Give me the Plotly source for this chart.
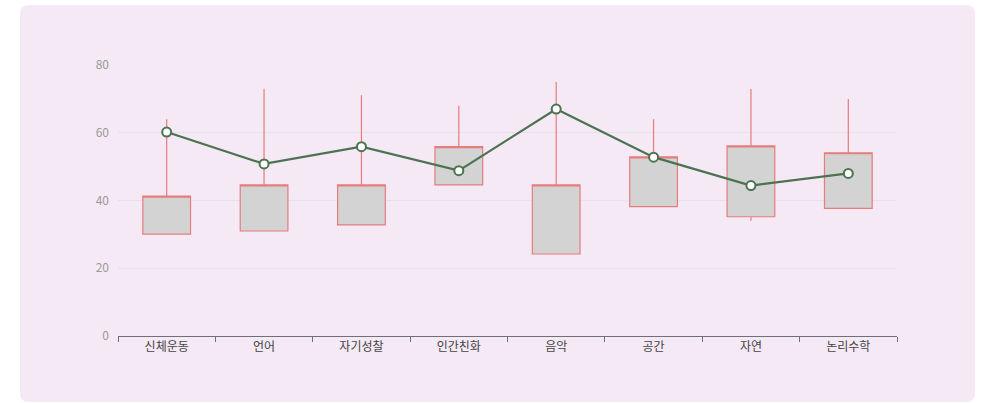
import plotly.graph_objects as go

categories = ["신체운동", "언어", "자기성찰", "인간친화", "음악", "공간", "자연", "논리수학"]
box_low = [30.1, 31.0, 32.8, 44.6, 24.2, 38.2, 35.2, 37.7]
box_high = [41.3, 44.6, 44.6, 55.9, 44.6, 52.9, 56.1, 54.1]
whisker_high = [64.0, 73.0, 71.1, 68.0, 75.0, 64.0, 72.9, 70.0]
whisker_low = [30.1, 31.0, 32.8, 44.6, 24.2, 38.2, 34.0, 37.7]
line_values = [60.2, 50.8, 55.9, 48.8, 67.0, 52.8, 44.4, 48.0]
y_ticks = [0, 20, 40, 60, 80]

W, H = 982, 403
ML, MR, MT, MB = 118, 85, 65, 67
pw, ph = W - ML - MR, H - MT - MB

box_color = "#e67c7c"
fill_color = "#d3d3d3"
line_color = "#4b7350"
card_color = "#f5e9f5"

fig = go.Figure()
fig.add_trace(go.Candlestick(
    x=categories, open=box_low, close=box_high, high=whisker_high, low=whisker_low,
    increasing=dict(line=dict(color=box_color, width=1.2), fillcolor=fill_color),
    decreasing=dict(line=dict(color=box_color, width=1.2), fillcolor=fill_color),
    whiskerwidth=0, showlegend=False, hoverinfo="skip",
))
fig.add_trace(go.Scatter(
    x=categories, y=line_values, mode="lines+markers",
    line=dict(color=line_color, width=2.2),
    marker=dict(size=9, color="white", line=dict(color=line_color, width=2)),
    showlegend=False,
))

# rounded card background in paper coords
def px_x(p):
    return (p - ML) / pw

def px_y(p):
    return (H - MB - p) / ph

x0, x1, y0, y1, r = 20, 975, 5, 402, 9
rx, ry = r / pw, r / ph
X0, X1, Y0, Y1 = px_x(x0), px_x(x1), px_y(y0), px_y(y1)
path = (f"M {X0+rx},{Y0} L {X1-rx},{Y0} Q {X1},{Y0} {X1},{Y0-ry} "
        f"L {X1},{Y1+ry} Q {X1},{Y1} {X1-rx},{Y1} L {X0+rx},{Y1} "
        f"Q {X0},{Y1} {X0},{Y1+ry} L {X0},{Y0-ry} Q {X0},{Y0} {X0+rx},{Y0} Z")
fig.add_shape(type="path", path=path, xref="paper", yref="paper",
              fillcolor=card_color, line=dict(width=0), layer="below")

fig.update_layout(
    width=W, height=H,
    margin=dict(l=ML, r=MR, t=MT, b=MB),
    paper_bgcolor="white", plot_bgcolor="rgba(0,0,0,0)",
    font=dict(family="Noto Sans CJK KR, Noto Sans, sans-serif", size=12, color="#555"),
    boxgap=0.51, boxgroupgap=0,
    xaxis=dict(
        type="category", rangeslider=dict(visible=False), range=[-0.5, 7.5],
        showgrid=False, showline=True, linecolor="#6e7079", linewidth=1,
        ticks="outside", tickson="boundaries", ticklen=5, tickcolor="#6e7079",
        tickfont=dict(color="#444", size=12), fixedrange=True,
    ),
    yaxis=dict(
        range=[0, 80], tickvals=y_ticks, showgrid=True, gridcolor="#e8e0f0",
        zeroline=False, showline=False, ticks="", ticklabelstandoff=8,
        tickfont=dict(color="#999", size=12), fixedrange=True,
    ),
)

fig.write_html("out.html", config={"displayModeBar": False},
               post_script="document.body.style.margin='0';document.body.style.overflow='hidden';")
